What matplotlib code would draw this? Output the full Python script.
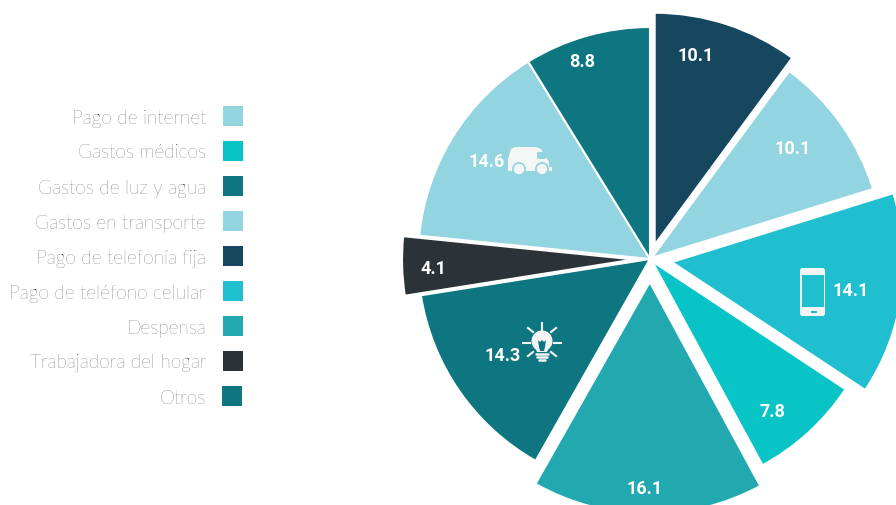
import matplotlib
matplotlib.use('Agg')
import matplotlib.pyplot as plt
from matplotlib.patches import Rectangle, Circle, FancyBboxPatch, Polygon

W, H = 896, 506

legend_names = ['Pago de internet', 'Gastos médicos', 'Gastos de luz y agua', 'Gastos en transporte',
                'Pago de telefonía fija', 'Pago de teléfono celular', 'Despensa',
                'Trabajadora del hogar', 'Otros']
legend_colors = ['#92d4e0', '#08c4c6', '#0d7680', '#92d4e0', '#16475f', '#20bfcf', '#22a9b0', '#2c3338', '#0d7680']
legend_y = [117, 152, 187, 222, 257, 292, 327, 362, 397]

values = [10.1, 10.1, 14.1, 7.8, 16.1, 14.3, 4.1, 14.6, 8.8]
slice_colors = ['#16475f', '#92d4e0', '#20bfcf', '#08c4c6', '#22a9b0', '#0d7680', '#2c3338', '#92d4e0', '#0d7680']
explode_px = [15, 2, 22, 3, 23, 0, 16, 0, 0]
label_x = [696, 793, 851, 772, 645, 503, 433, 487, 582]
label_y = [56, 149, 291, 412, 489, 356, 269, 162, 62]

ICON = '#f4f6f6'


def flip(y):
    return H - y


fig = plt.figure(figsize=(W / 100, H / 100), dpi=100)
ax = fig.add_axes([0, 0, 1, 1])

ax.pie(values, colors=slice_colors, explode=explode_px, startangle=90, counterclock=False,
       radius=232, center=(650, flip(260)), frame=True,
       wedgeprops={'edgecolor': 'white', 'linewidth': 1.5})
ax.set_xlim(0, W)
ax.set_ylim(0, H)
ax.set_aspect('equal')
ax.axis('off')

for v, x, y in zip(values, label_x, label_y):
    ax.text(x, flip(y), str(v), color='white', fontsize=13, fontweight='bold',
            family=['Roboto', 'DejaVu Sans'], ha='center', va='center')

# legend, labels on the left of the swatches
for name, col, y in zip(legend_names, legend_colors, legend_y):
    ax.text(206, flip(y + 1.5), name, color='#2a2a2a', fontsize=13.8, family=['Lato', 'DejaVu Sans'],
            fontweight='light', ha='right', va='center')
    x0 = 222 if name == 'Otros' else 223
    ax.add_patch(Rectangle((x0, flip(y + 10)), 20, 20, color=col, lw=0))

# van
van = [(508, 172), (508, 160), (511, 150), (515, 148), (536, 148), (541, 150), (549, 163), (549, 168),
       (552, 168), (552, 172), (508, 172)]
ax.add_patch(Polygon([(x, flip(y)) for x, y in van], closed=True, color=ICON, lw=0))
ax.add_patch(FancyBboxPatch((537, flip(160)), 9, 7, boxstyle='round,pad=0,rounding_size=1.5',
                            color='#92d4e0', lw=0))
for cx in [519, 542]:
    ax.add_patch(Circle((cx, flip(170)), 7, color='#92d4e0', lw=0))
    ax.add_patch(Circle((cx, flip(170)), 5.2, color=ICON, lw=0))

# phone
ax.add_patch(FancyBboxPatch((800, flip(317)), 25, 48, boxstyle='round,pad=0,rounding_size=2.5',
                            color=ICON, lw=0))
ax.add_patch(Rectangle((802, flip(308)), 22, 32, color='#20bfcf', lw=0))
ax.add_patch(Rectangle((811, flip(314)), 6, 2, color='#20bfcf', lw=0))

# light bulb
bx, by = 542, 342
ax.add_patch(Circle((bx, flip(by)), 10.5, color=ICON, lw=0))
ax.add_patch(Polygon([(x, flip(y)) for x, y in [(535, 348), (549, 348), (547, 353), (537, 353)]],
                     closed=True, color=ICON, lw=0))
ax.add_patch(Polygon([(x, flip(y)) for x, y in [(538, 341), (540, 343), (542, 341), (544, 343), (546, 341),
                                                (545, 348), (544, 352), (540, 352), (539, 348)]],
                     closed=True, color='#0d7680', lw=0))
for y, x0, x1 in [(355, 536, 548), (358, 537, 547), (361, 539, 545)]:
    ax.plot([x0, x1], [flip(y), flip(y)], color=ICON, lw=1.8, solid_capstyle='round')
for x0, y0, x1, y1 in [(542, 324, 542, 331), (528, 329, 533, 333), (556, 329, 551, 333), (523, 344, 530, 344),
                       (554, 344, 561, 344), (528, 357, 533, 353), (556, 357, 551, 353)]:
    ax.plot([x0, x1], [flip(y0), flip(y1)], color=ICON, lw=1.5)

fig.savefig('out.png', dpi=100, facecolor='white')
